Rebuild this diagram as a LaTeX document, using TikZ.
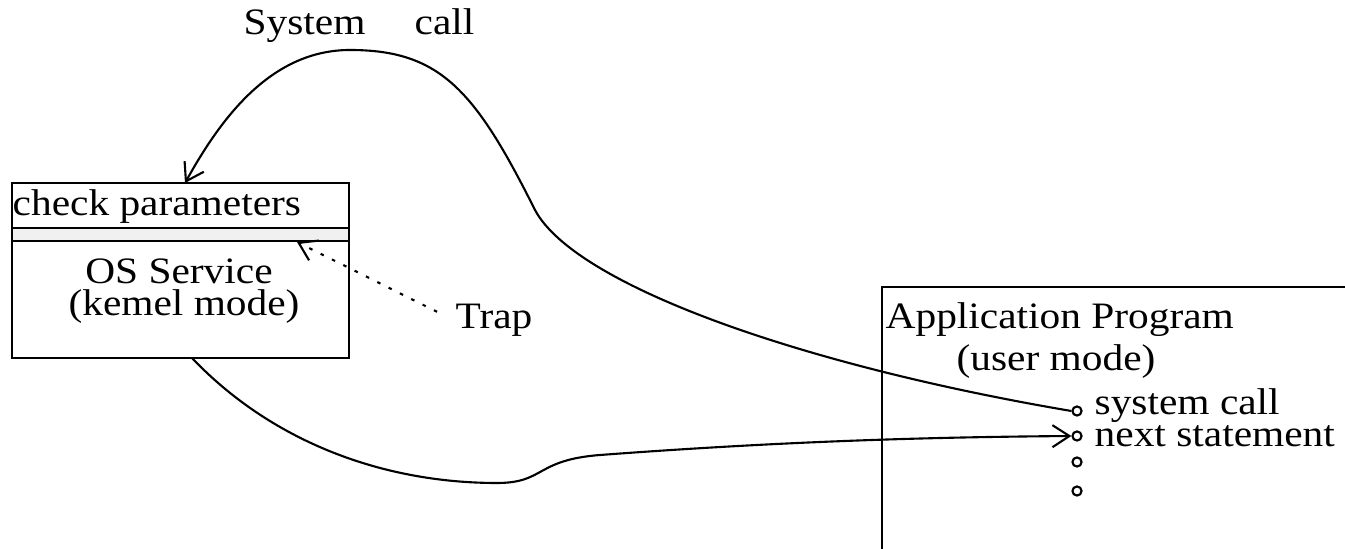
\documentclass[tikz,border=0pt]{standalone}
\usepackage{fontspec}
\setmainfont{Liberation Serif}[FakeStretch=1.11]
\usetikzlibrary{arrows.meta}
\begin{document}
\begin{tikzpicture}[x=0.01cm,y=-0.01cm,
  txt/.style={inner sep=0pt,font=\fontsize{10.6}{13}\selectfont},
  dot/.style={circle,draw,line width=0.6pt,inner sep=0pt,minimum size=2.6pt},
  >={Straight Barb[length=1.7mm,width=2.2mm]}]
\useasboundingbox (0,0) rectangle (1345,549);

\fill[gray!12] (12,228) rectangle (349,241);
\draw[thick] (12,183) rectangle (349,358);
\draw[thick] (12,228) -- (349,228);
\draw[thick] (12,241) -- (349,241);
\draw[thick] (882,549) -- (882,287) -- (1345,287);

\node[txt,anchor=base west] (chk) at (12,216) {check parameters};
\node[txt,anchor=base] (os) at (179,284) {OS Service};
\node[txt,anchor=base] (krn) at (184,316) {(kemel mode)};
\node[txt,anchor=base] (trap) at (494,329) {Trap};
\node[txt,anchor=base] (sys) at (359,35) {System\hspace{14pt}call};
\node[txt,anchor=base west] (app) at (885,329) {Application Program};
\node[txt,anchor=base] (usr) at (1056,371) {(user mode)};

\foreach \n/\y in {sc/411,ns/436,d1/462,d2/491}
{
\node[dot] (\n) at (1077,\y) {};
}
\node[txt,anchor=base west] (sctxt) at (1094,415) {system call};
\node[txt,anchor=base west] (nstxt) at (1094,447) {next statement};

\coordinate (callin) at (185,183);
\coordinate (retout) at (192,358);
\coordinate (trapin) at (297,242);

\draw[->,semithick] (sc.west) .. controls (800,365) and (575,285) .. (535,210)
  .. controls (475,90) and (440,50) .. (350,50)
  .. controls (270,50) and (220,120) .. (callin);
\draw[->,semithick] (retout) .. controls (270,440) and (380,483) .. (497,483)
  .. controls (545,483) and (535,460) .. (600,455)
  .. controls (800,440) and (950,437) .. (ns.west);
\draw[->,semithick,dash pattern=on 1pt off 2.6pt,shorten <=0.2cm] (trap.west) -- (trapin);
\end{tikzpicture}
\end{document}
